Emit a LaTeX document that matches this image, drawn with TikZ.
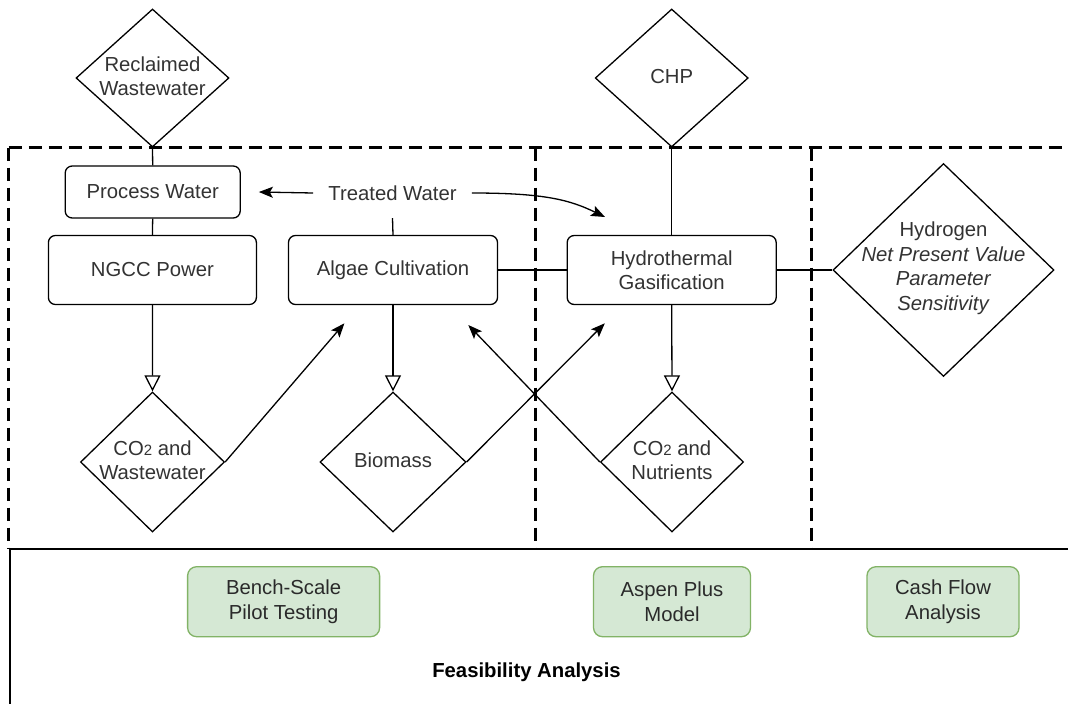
\documentclass[tikz,border=0pt]{standalone}
\usepackage{fontspec}
\setmainfont{Liberation Sans}
\usetikzlibrary{shapes.geometric,arrows.meta}
\definecolor{gfill}{HTML}{D5E8D4}
\definecolor{gline}{HTML}{82B366}
\definecolor{txtc}{HTML}{333333}
\definecolor{gtxt}{HTML}{2A2A2A}
\begin{document}
\begin{tikzpicture}[x=1pt,y=-1pt,
  every node/.style={font=\fontsize{20.3}{24.5}\selectfont, text=txtc},
  box/.style={draw, rounded corners=7pt, line width=1.3pt, inner sep=0pt, align=center},
  dia/.style={draw, diamond, line width=1.3pt, inner sep=0pt, aspect=1},
  lbl/.style={align=center, inner sep=0pt},
  gbox/.style={draw=gline, fill=gfill, rounded corners=9pt, line width=1.3pt, align=center, inner sep=0pt, text=gtxt},
  ln/.style={line width=1.3pt},
  arr/.style={ln, -{Stealth[length=14pt,width=11pt,inset=3pt]}},
  oarr/.style={ln, -{Triangle[length=16pt,width=16pt,fill=white]}},
  dsh/.style={line width=3pt, dash pattern=on 13pt off 7pt},
  frm/.style={line width=1.8pt}
]
\useasboundingbox (0,0) rectangle (1068,704);
\fill[white] (0,0) rectangle (1068,704);

% frame
\draw[dsh] (8.6,147.7) -- (1068,147.7);
\draw[dsh] (8.6,147.7) -- (8.6,549.3);
\draw[dsh] (535,147.7) -- (535,549.3);
\draw[dsh] (811,147.7) -- (811,549.3);
\draw[frm] (9.6,549.3) -- (1068,549.3);
\draw[frm] (9.6,549.3) -- (9.6,704);

% diamonds
\node[dia, minimum width=153pt, minimum height=138pt] (rw) at (152.5,78) {};
\node[lbl] at (152.5,76) {Reclaimed\\Wastewater};
\node[dia, minimum width=153pt, minimum height=138pt] (chp) at (671.7,78) {};
\node[lbl] at (671.7,77) {CHP};
\node[dia, minimum width=221pt, minimum height=213pt] (h2) at (943.5,270) {};
\node[lbl] at (943.5,268) {Hydrogen\\\textit{Net Present Value}\\\textit{Parameter}\\\textit{Sensitivity}};
\node[dia, minimum width=144pt, minimum height=140pt] (co2ww) at (152.5,462) {};
\node[lbl] at (152.5,460) {CO{\fontsize{15}{15}\selectfont 2} and\\Wastewater};
\node[dia, minimum width=146pt, minimum height=140pt] (bio) at (393,462) {};
\node[lbl] at (393,460) {Biomass};
\node[dia, minimum width=143pt, minimum height=140pt] (co2n) at (672,462) {};
\node[lbl] at (672,460) {CO{\fontsize{15}{15}\selectfont 2} and\\Nutrients};

% boxes
\node[box, minimum width=175pt, minimum height=52pt] (pw) at (152.7,192) {Process Water};
\node[lbl, inner xsep=15pt, minimum height=50pt] (tw) at (392.5,193) {Treated Water};
\node[box, minimum width=208pt, minimum height=69pt] (ngcc) at (152.4,270) {NGCC Power};
\node[box, minimum width=209pt, minimum height=69pt] (alg) at (393,270) {Algae Cultivation};
\node[box, minimum width=209pt, minimum height=69pt] (hg) at (671.7,270) {Hydrothermal\\Gasification};

% green boxes
\node[gbox, minimum width=192pt, minimum height=70pt] (bs) at (283.6,601.7) {Bench-Scale\\Pilot Testing};
\node[gbox, minimum width=157pt, minimum height=70pt] (ap) at (672,601.7) {Aspen Plus\\Model};
\node[gbox, minimum width=152pt, minimum height=70pt] (cf) at (943,601.7) {Cash Flow\\Analysis};
\node[lbl, font=\fontsize{20.3}{24}\selectfont\bfseries, text=black] (fa) at (526.5,672.7) {Feasibility Analysis};

% plain connectors
\draw[ln] (rw.south) -- (pw.north);
\draw[ln] (pw.south) -- (ngcc.north);
\draw[ln] (tw.south) -- (alg.north);
\draw[ln] (chp.south) -- (hg.north);
\draw[ln] (alg.east) -- (hg.west);
\draw[ln] (hg.east) -- (h2.west);

% open-triangle arrows
\draw[oarr] (ngcc.south) -- (co2ww.north);
\draw[oarr] (alg.south) -- (bio.north);
\draw[oarr] (hg.south) -- (co2n.north);

% filled arrows
\coordinate (t1) at (344.4,323.3);
\coordinate (t2) at (604.8,323.3);
\coordinate (t3) at (468.3,325);
\coordinate (t4) at (605,217);
\draw[arr] (tw.west) -- ([xshift=18pt]pw.east);
\draw[arr] (tw.east) .. controls (545,193) and (570,200) .. (t4);
\draw[arr] (co2ww.east) -- (t1);
\draw[arr] (bio.east) -- (t2);
\draw[arr] (co2n.west) -- (t3);
\end{tikzpicture}
\end{document}
